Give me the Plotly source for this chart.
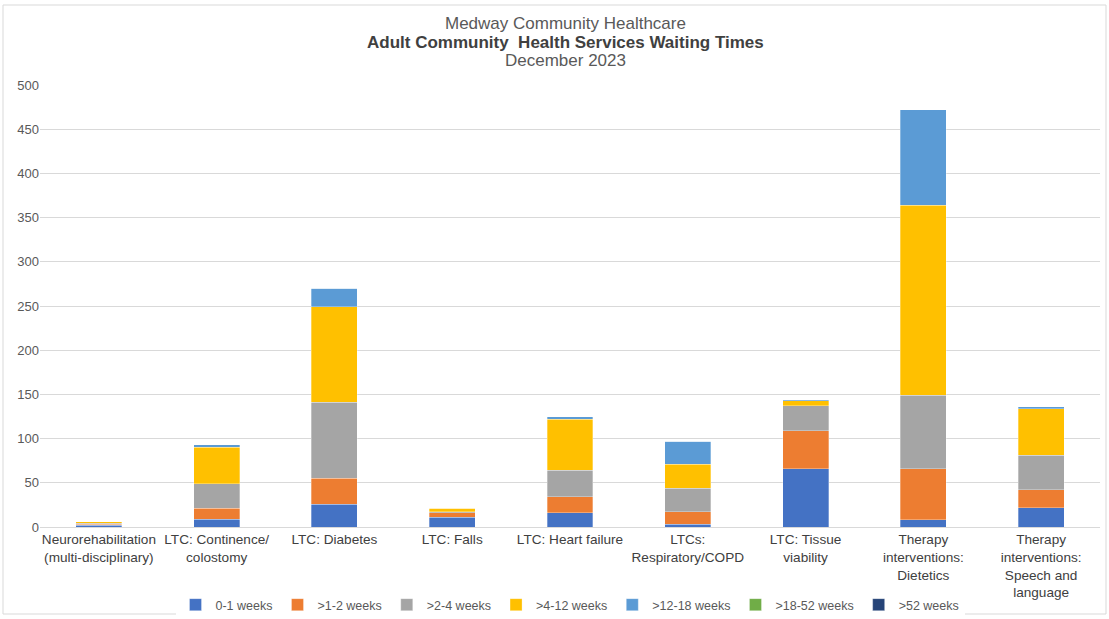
import plotly.graph_objects as go

categories = [
    "Neurorehabilitation<br>(multi-disciplinary)",
    "LTC: Continence/<br>colostomy",
    "LTC: Diabetes",
    "LTC: Falls",
    "LTC: Heart failure",
    "LTCs:<br>Respiratory/COPD",
    "LTC: Tissue<br>viability",
    "Therapy<br>interventions:<br>Dietetics",
    "Therapy<br>interventions:<br>Speech and<br>language",
]

series_names = ["0-1 weeks", ">1-2 weeks", ">2-4 weeks", ">4-12 weeks",
                ">12-18 weeks", ">18-52 weeks", ">52 weeks"]

w0_1 = [2, 9, 26, 11, 16, 3, 66, 8, 22]
w1_2 = [1, 12, 29, 5, 18, 14, 43, 58, 20]
w2_4 = [1, 28, 86, 1, 30, 27, 28, 83, 39]
w4_12 = [2, 41, 108, 4, 58, 27, 6, 215, 53]
w12_18 = [0, 3, 21, 0, 3, 26, 1, 108, 2]
w18_52 = [0, 0, 0, 1, 0, 0, 0, 0, 0]
w52 = [0, 0, 0, 0, 0, 0, 0, 0, 0]

series_values = [w0_1, w1_2, w2_4, w4_12, w12_18, w18_52, w52]
colors = ["#4472C4", "#ED7D31", "#A5A5A5", "#FFC000", "#5B9BD5", "#70AD47", "#264478"]

y_ticks = [0, 50, 100, 150, 200, 250, 300, 350, 400, 450, 500]

title_lines = ["Medway Community Healthcare",
               "<b>Adult Community  Health Services Waiting Times</b>",
               "December 2023"]

font_family = "Liberation Sans, Arial, sans-serif"

fig = go.Figure()
for name, vals, col in zip(series_names, series_values, colors):
    fig.add_trace(go.Bar(
        x=categories, y=vals, name=name,
        marker=dict(color=col, line=dict(color="rgba(255,255,255,0.5)", width=0.6)),
    ))

W, H = 1109, 619
ml, mr, mt, mb = 40, 9, 85, 92
pw = W - ml - mr
ph = H - mt - mb

title_y = [23, 43, 61]
title_colors = ["#595959", "#404040", "#595959"]
annotations = []
for txt, yp, tc in zip(title_lines, title_y, title_colors):
    annotations.append(dict(
        text=txt, xref="paper", yref="paper",
        x=(565 - ml) / pw, y=(H - mb - yp) / ph,
        xanchor="center", yanchor="middle", showarrow=False,
        font=dict(size=17, color=tc, family=font_family),
    ))

fig.update_layout(
    width=W, height=H,
    barmode="stack",
    bargap=0.61,
    plot_bgcolor="white", paper_bgcolor="white",
    margin=dict(l=ml, r=mr, t=mt, b=mb, autoexpand=False),
    font=dict(family=font_family, color="#595959", size=13),
    annotations=annotations,
    xaxis=dict(
        tickfont=dict(size=13.6, color="#404040", family=font_family),
        showline=True, linecolor="#d9d9d9", linewidth=1,
        ticks="", automargin=False,
    ),
    yaxis=dict(
        range=[0, 500], tickvals=y_ticks,
        showgrid=True, gridcolor="#d9d9d9", gridwidth=1,
        zeroline=False, automargin=False,
        tickfont=dict(size=13, color="#595959", family=font_family),
        ticks="", ticklen=0,
    ),
    legend=dict(
        orientation="h", x=0.5, xanchor="center",
        y=(527 - 605) / ph, yanchor="middle",
        font=dict(size=12.5, color="#595959", family=font_family),
        traceorder="normal",
        itemwidth=30,
    ),
    shapes=[dict(
        type="rect", xref="paper", yref="paper",
        x0=(3 - ml) / pw, x1=(1106 - ml) / pw,
        y0=(527 - 614) / ph, y1=(527 - 5) / ph,
        line=dict(color="#d9d9d9", width=1), fillcolor="rgba(0,0,0,0)", layer="below",
    )],
)

fig.write_html("out.html")
